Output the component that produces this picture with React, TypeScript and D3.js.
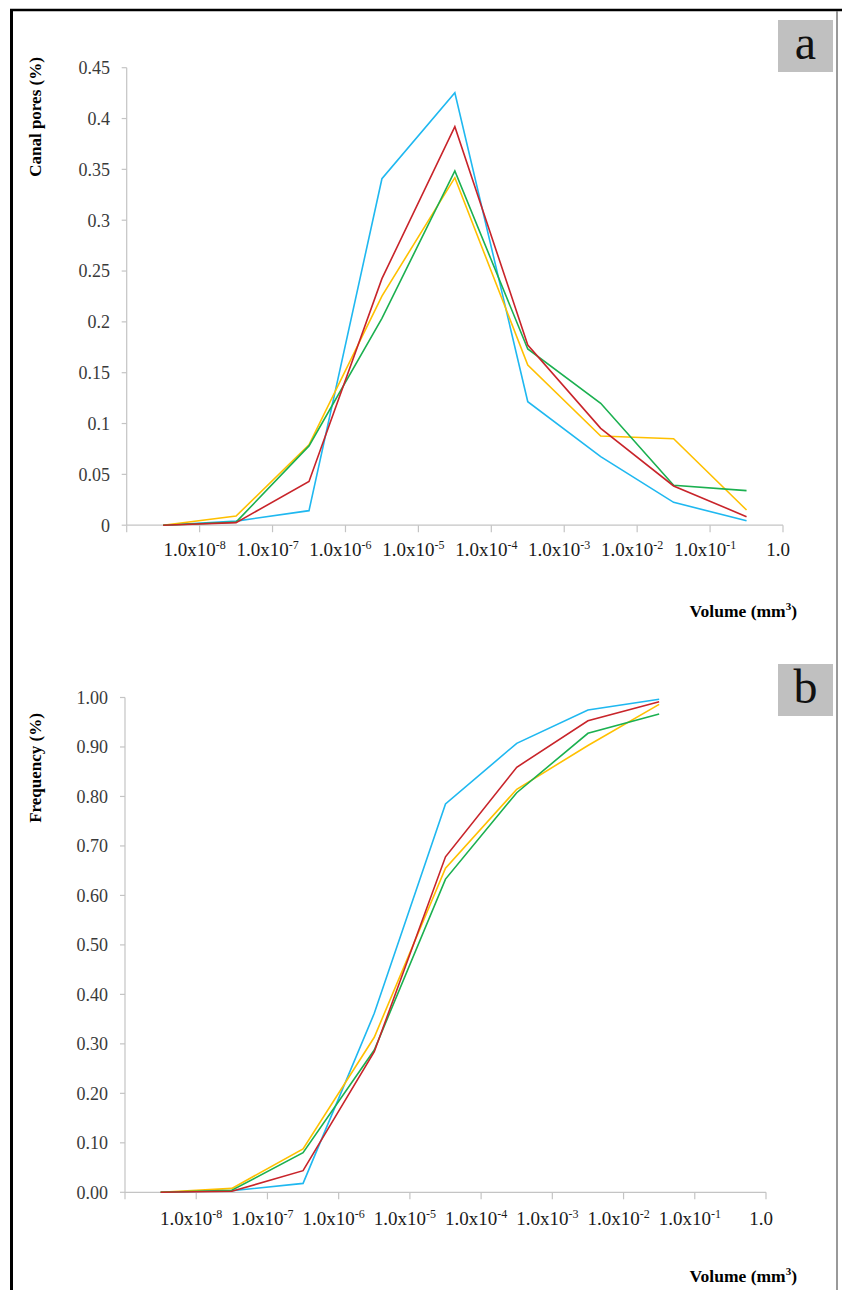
import React, { useEffect, useRef } from 'react';
import * as d3 from 'd3';

// bin boundaries on the x axis (exponent of 1.0x10^n, null = "1.0")
const volumeExponents: (string | null)[] = ['-8', '-7', '-6', '-5', '-4', '-3', '-2', '-1', null];

// panel a: canal pores per volume bin
const poresBlue = [0, 0.004, 0.0143, 0.3408, 0.4254, 0.1215, 0.0674, 0.0225, 0.0044];
const poresYellow = [0, 0.009, 0.079, 0.2254, 0.3418, 0.1576, 0.0877, 0.0851, 0.015];
const poresGreen = [0, 0.003, 0.078, 0.2035, 0.3484, 0.1733, 0.1199, 0.0392, 0.034];
const poresRed = [0, 0.0025, 0.043, 0.2425, 0.392, 0.1772, 0.0953, 0.0386, 0.0084];
const poresTicks = [0, 0.05, 0.1, 0.15, 0.2, 0.25, 0.3, 0.35, 0.4, 0.45];

// panel b: cumulative frequency
const freqBlue = [0, 0.003, 0.018, 0.3617, 0.7848, 0.9074, 0.9747, 0.9963];
const freqYellow = [0, 0.008, 0.0875, 0.3133, 0.655, 0.8145, 0.903, 0.986];
const freqGreen = [0, 0.004, 0.08, 0.2876, 0.633, 0.8076, 0.9276, 0.9666];
const freqRed = [0, 0.002, 0.0437, 0.2842, 0.678, 0.859, 0.953, 0.9915];
const freqTicks = [0, 0.1, 0.2, 0.3, 0.4, 0.5, 0.6, 0.7, 0.8, 0.9, 1.0];

const seriesColors = ['#1fb8f0', '#ffc000', '#1bb050', '#c8242a'];

const SERIF = '"Liberation Serif", "Times New Roman", serif';
const AXIS = '#c4c4c4';

type PanelOpts = {
  letter: string;
  letterTop: number;
  left: number;
  right: number;
  top: number;
  bottom: number;
  yMax: number;
  ticks: number[];
  tickFmt: (v: number) => string;
  labelRight: number;
  series: number[][];
  yTitle: string;
  yTitleCenter: number;
  xTitleBaseline: number;
  xLabelBaseline: number;
};

function drawPanel(svg: d3.Selection<SVGSVGElement, unknown, null, undefined>, o: PanelOpts) {
  const g = svg.append('g');
  const x = d3.scaleLinear().domain([0, volumeExponents.length]).range([o.left, o.right]);
  const y = d3.scaleLinear().domain([0, o.yMax]).range([o.bottom, o.top]);

  // y axis
  g.append('line')
    .attr('x1', o.left).attr('x2', o.left)
    .attr('y1', y(0)).attr('y2', y(o.yMax))
    .attr('stroke', AXIS).attr('stroke-width', 1.2);
  o.ticks.forEach(t => {
    g.append('line')
      .attr('x1', o.left - 5).attr('x2', o.left)
      .attr('y1', y(t)).attr('y2', y(t))
      .attr('stroke', AXIS).attr('stroke-width', 1.2);
    g.append('text')
      .attr('x', o.labelRight).attr('y', y(t)).attr('dy', '0.35em')
      .attr('text-anchor', 'end')
      .style('font-family', SERIF).style('font-size', '18px').style('fill', '#3a3a3a')
      .text(o.tickFmt(t));
  });

  // x axis
  g.append('line')
    .attr('x1', o.left).attr('x2', o.right)
    .attr('y1', y(0)).attr('y2', y(0))
    .attr('stroke', AXIS).attr('stroke-width', 1.2);
  d3.range(volumeExponents.length + 1).forEach(i => {
    g.append('line')
      .attr('x1', x(i)).attr('x2', x(i))
      .attr('y1', y(0)).attr('y2', y(0) + 7)
      .attr('stroke', AXIS).attr('stroke-width', 1.2);
  });
  volumeExponents.forEach((e, i) => {
    const t = g.append('text')
      .attr('x', x(i + 1) - 5).attr('y', o.xLabelBaseline)
      .attr('text-anchor', 'middle')
      .style('font-family', SERIF).style('font-size', '19px').style('fill', '#1a1a1a');
    if (e === null) {
      t.text('1.0');
    } else {
      t.append('tspan').text('1.0x10');
      t.append('tspan').attr('dy', -7).style('font-size', '12px').text(e);
    }
  });

  // lines
  const line = d3.line<number>()
    .x((_, i) => x(i + 0.5))
    .y(d => y(d));
  o.series.forEach((s, k) => {
    g.append('path')
      .datum(s)
      .attr('d', line)
      .attr('fill', 'none')
      .attr('stroke', seriesColors[k])
      .attr('stroke-width', 1.6)
      .attr('stroke-linejoin', 'miter');
  });

  // titles
  g.append('text')
    .attr('transform', `translate(41, ${o.yTitleCenter}) rotate(-90)`)
    .attr('text-anchor', 'middle')
    .style('font-family', SERIF).style('font-size', '17px').style('font-weight', 'bold')
    .text(o.yTitle);
  const xt = g.append('text')
    .attr('x', 797).attr('y', o.xTitleBaseline)
    .attr('text-anchor', 'end')
    .style('font-family', SERIF).style('font-size', '17.5px').style('font-weight', 'bold');
  xt.append('tspan').text('Volume (mm');
  xt.append('tspan').attr('dy', -7).style('font-size', '11px').text('3');
  xt.append('tspan').attr('dy', 7).text(')');

  // panel letter
  g.append('rect')
    .attr('x', 778).attr('y', o.letterTop).attr('width', 55).attr('height', 52)
    .attr('fill', '#c0c0c0');
  g.append('text')
    .attr('x', 805.5).attr('y', o.letterTop + 39)
    .attr('text-anchor', 'middle')
    .style('font-family', SERIF).style('font-size', '48px').style('fill', '#111')
    .text(o.letter);
}

export default function App() {
  const svgRef = useRef<SVGSVGElement>(null);

  useEffect(() => {
    if (!svgRef.current) return;
    const svg = d3.select(svgRef.current);
    svg.selectAll('*').remove();

    svg.append('rect').attr('width', 842).attr('height', 1290).attr('fill', '#fff');

    drawPanel(svg, {
      letter: 'a', letterTop: 20,
      left: 126.7, right: 783, top: 67.7, bottom: 525.2, yMax: 0.45,
      ticks: poresTicks, tickFmt: v => String(+v.toFixed(2)), labelRight: 110,
      series: [poresBlue, poresYellow, poresGreen, poresRed],
      yTitle: 'Canal pores (%)', yTitleCenter: 117,
      xTitleBaseline: 617, xLabelBaseline: 556,
    });

    drawPanel(svg, {
      letter: 'b', letterTop: 664,
      left: 125, right: 766, top: 697.5, bottom: 1192.3, yMax: 1.0,
      ticks: freqTicks, tickFmt: v => v.toFixed(2), labelRight: 108,
      series: [freqBlue, freqYellow, freqGreen, freqRed],
      yTitle: 'Frequency (%)', yTitleCenter: 768,
      xTitleBaseline: 1282, xLabelBaseline: 1225,
    });

    // outer frame
    svg.append('line').attr('x1', 11.5).attr('x2', 11.5).attr('y1', 9).attr('y2', 1290)
      .attr('stroke', '#000').attr('stroke-width', 3);
    svg.append('line').attr('x1', 10).attr('x2', 842).attr('y1', 10).attr('y2', 10)
      .attr('stroke', '#000').attr('stroke-width', 2.5);
    svg.append('line').attr('x1', 837).attr('x2', 837).attr('y1', 11).attr('y2', 1290)
      .attr('stroke', '#777').attr('stroke-width', 1.5);
  }, []);

  return (
    <svg
      ref={svgRef}
      width={842}
      height={1290}
      style={{ position: 'absolute', left: 0, top: 0, display: 'block' }}
    />
  );
}
